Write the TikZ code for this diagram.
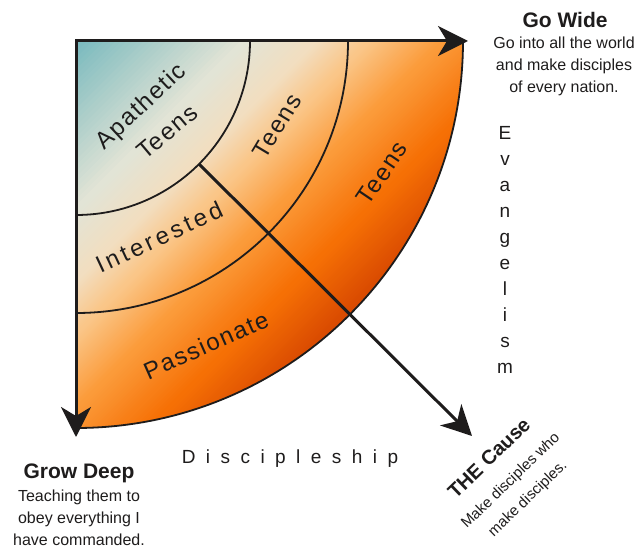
\documentclass[tikz,border=0pt]{standalone}
\usepackage{fontspec}
\setmainfont{Liberation Sans}
\newfontfamily\bandfont[LetterSpace=7]{Liberation Sans}
\newfontfamily\bandwfont[LetterSpace=14]{Liberation Sans}
\newfontfamily\widefont[LetterSpace=55]{Liberation Sans}
\usetikzlibrary{arrows.meta}
\definecolor{g0}{RGB}{122,186,190}
\definecolor{g1}{RGB}{226,228,214}
\definecolor{g2}{RGB}{242,222,192}
\definecolor{g3}{RGB}{250,198,136}
\definecolor{g4}{RGB}{251,155,58}
\definecolor{g5}{RGB}{246,112,5}
\definecolor{g6}{RGB}{212,68,0}
\definecolor{ink}{RGB}{30,28,28}
\tikzset{
  axisline/.style={draw=ink, line width=3pt, line join=miter},
  arcline/.style={draw=ink, line width=1.8pt},
  bigtip/.tip={Stealth[length=30pt,width=30pt,inset=9pt]},
  bandlabel/.style={font=\bandfont\fontsize{24}{26}\selectfont, text=ink, inner sep=0pt},
  bandwlabel/.style={font=\bandwfont\fontsize{24}{26}\selectfont, text=ink, inner sep=0pt},
  headlabel/.style={font=\bfseries\fontsize{21}{24}\selectfont, text=ink, inner sep=0pt},
  bodylabel/.style={font=\fontsize{16}{22}\selectfont, text=ink, align=center, inner sep=0pt},
  causelabel/.style={font=\fontsize{15}{20}\selectfont, text=ink, inner sep=0pt, rotate=44},
}
\begin{document}
\begin{tikzpicture}[x=1pt,y=-1pt]
\useasboundingbox (0,0) rectangle (639,548);
\coordinate (O) at (76,41);
\coordinate (E) at (468,41);
\coordinate (S) at (76,437);
\coordinate (D0) at (199,164);
\coordinate (D1) at (472,436);
% gradient fill
\begin{scope}
  \clip (O) -- ++(387pt,0) arc[start angle=0,end angle=-90,radius=387pt] -- cycle;
  \begin{scope}[shift={(O)}, rotate=-45]
    \foreach \pa/\pb/\ca/\cb in {0/120/g0/g1,120/170/g1/g2,170/207/g2/g3,207/260/g3/g4,260/325/g4/g5,325/395/g5/g6,395/430/g6/g6}{
      \foreach \k in {0,...,29}{
        \pgfmathsetmacro{\pp}{\pa+\k*(\pb-\pa)/30}
        \pgfmathsetmacro{\qq}{\pp+(\pb-\pa)/30+0.8}
        \pgfmathtruncatemacro{\mixv}{100*\k/29}
        \fill[\cb!\mixv!\ca] (\pp,-420) rectangle (\qq,420);
      }
    }
  \end{scope}
\end{scope}
% arcs
\draw[arcline] (O) ++(174pt,0) arc[start angle=0,end angle=-90,radius=174pt];
\draw[arcline] (O) ++(272pt,0) arc[start angle=0,end angle=-90,radius=272pt];
\draw[arcline] (O) ++(387pt,0) arc[start angle=0,end angle=-90,radius=387pt];
% axes
\draw[axisline, {bigtip}-{bigtip}] (S) -- (O) -- (E);
\draw[axisline, -{bigtip}] (D0) -- (D1);
% band labels
\node[bandlabel, rotate=43] (apa) at (142,107) {Apathetic};
\node[bandlabel, rotate=40] (t1) at (167,132) {Teens};
\node[bandlabel, rotate=59] (t2) at (277,126) {Teens};
\node[bandlabel, rotate=56] (t3) at (382,173) {Teens};
\node[bandwlabel, rotate=25] (int) at (159,237) {Interested};
\node[bandlabel, rotate=24] (pas) at (206,345) {Passionate};
% go wide
\node[headlabel] (gw) at (565,20) {Go Wide};
\node[bodylabel] (gwb) at (564,66) {Go into all the world\\and make disciples\\of every nation.};
% grow deep
\node[headlabel] (gd) at (79,473) {Grow Deep};
\node[bodylabel] (gdb) at (79,518) {Teaching them to\\obey everything I\\have commanded.};
% discipleship
\node[font=\widefont\fontsize{19}{22}\selectfont, text=ink, inner sep=0pt] (disc) at (290,459) {Discipleship};
% evangelism
\node[font=\fontsize{19}{26}\selectfont, text=ink, align=center, inner sep=0pt] (evan) at (505,250) {E\\v\\a\\n\\g\\e\\l\\i\\s\\m};
% the cause
\node[headlabel, font=\bfseries\fontsize{20}{24}\selectfont, rotate=44] (cause) at (489,458) {THE Cause};
\node[causelabel] (c1) at (511,481) {Make disciples who};
\node[causelabel] (c2) at (528,499) {make disciples.};
\end{tikzpicture}
\end{document}
